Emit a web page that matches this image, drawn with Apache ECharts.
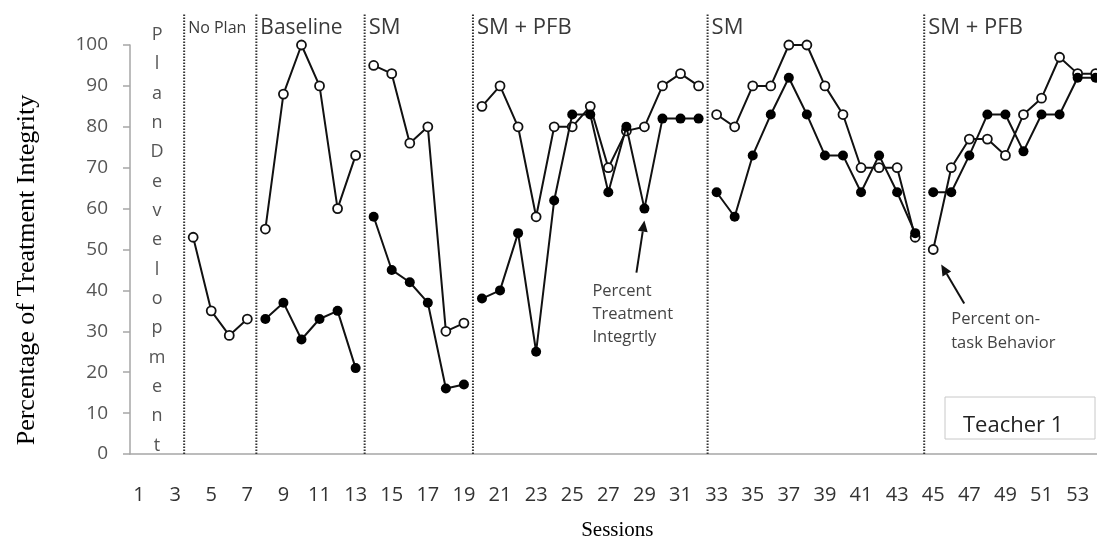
<!DOCTYPE html>
<html><head><meta charset="utf-8">
<script src="https://cdn.jsdelivr.net/npm/echarts@6/dist/echarts.min.js"></script>
<style>html,body{margin:0;padding:0;background:#fff;overflow:hidden}#c{width:1097px;height:542px}</style>
</head><body><div id="c"></div>
<script>
// ---------- data ----------
const sessions = ['1','2','3','4','5','6','7','8','9','10','11','12','13','14','15','16','17','18','19','20',
  '21','22','23','24','25','26','27','28','29','30','31','32','33','34','35','36','37','38','39','40',
  '41','42','43','44','45','46','47','48','49','50','51','52','53','54'];
const phaseNames  = ['No Plan', 'Baseline', 'SM', 'SM + PFB', 'SM', 'SM + PFB'];
const phaseStarts = [4, 8, 14, 20, 33, 45];
const phaseEnds   = [7, 13, 19, 32, 44, 54];
const phaseBreaks = [3.5, 7.5, 13.5, 19.5, 32.5, 44.5];
const phaseFontSizes = [16, 21, 22, 22, 22, 22];
// Percent on-task Behavior (open circles), sessions 1..54
const onTask = [null, null, null,
  53, 35, 29, 33,
  55, 88, 100, 90, 60, 73,
  95, 93, 76, 80, 30, 32,
  85, 90, 80, 58, 80, 80, 85, 70, 79, 80, 90, 93, 90,
  83, 80, 90, 90, 100, 100, 90, 83, 70, 70, 70, 53,
  50, 70, 77, 77, 73, 83, 87, 97, 93, 93];
// Percent Treatment Integrity (filled circles), sessions 1..54
const integrity = [null, null, null, null, null, null, null,
  33, 37, 28, 33, 35, 21,
  58, 45, 42, 37, 16, 17,
  38, 40, 54, 25, 62, 83, 83, 64, 80, 60, 82, 82, 82,
  64, 58, 73, 83, 92, 83, 73, 73, 64, 73, 64, 54,
  64, 64, 73, 83, 83, 74, 83, 83, 92, 92];
const planDevLetters = ['P','l','a','n','D','e','v','e','l','o','p','m','e','n','t'];
const yTitle = 'Percentage of Treatment Integrity';
const xTitle = 'Sessions';
const note1 = ['Percent', 'Treatment', 'Integrtly'];
const note2 = ['Percent on-', 'task Behavior'];
const panelLabel = 'Teacher 1';

// ---------- chart ----------
const chart = echarts.init(document.getElementById('c'), null, {renderer: 'canvas'});
const FONT = 'Open Sans';
const axisGray = '#a6a6a6';

function phaseSeries(values, p, filled) {
  const data = [];
  for (let s = phaseStarts[p]; s <= phaseEnds[p]; s++) {
    const v = values[s - 1];
    if (v != null) data.push([s, v]);
  }
  return {
    type: 'line', xAxisIndex: 1, yAxisIndex: 0, data: data,
    symbol: 'circle', symbolSize: filled ? 10 : 9,
    z: filled ? 4 : 3,
    lineStyle: {color: '#111', width: 2},
    itemStyle: filled ? {color: '#000'} : {color: '#fff', borderColor: '#111', borderWidth: 1.8},
    emphasis: {disabled: true}, silent: true
  };
}

const series = [];
phaseBreaks.forEach(b => {
  series.push({
    type: 'line', xAxisIndex: 1, yAxisIndex: 0, clip: false, symbol: 'none', z: 1,
    data: [[b, 0], [b, 107.8]],
    lineStyle: {color: '#333', width: 2, type: [1.5, 1.5]}, silent: true
  });
});
for (let p = 0; p < phaseNames.length; p++) {
  series.push(phaseSeries(onTask, p, false));
  series.push(phaseSeries(integrity, p, true));
}

chart.setOption({
  animation: false,
  grid: {left: 130, top: 45, width: 974.7, height: 409, containLabel: false, outerBoundsMode: 'none'},
  xAxis: [{
    type: 'category', data: sessions, boundaryGap: true,
    axisLine: {lineStyle: {color: axisGray, width: 1.5}},
    axisTick: {interval: 0, length: 6, lineStyle: {color: axisGray, width: 1.5}},
    axisLabel: {interval: 1, margin: 31, fontFamily: FONT, fontSize: 20, color: '#333'},
    name: xTitle, nameLocation: 'middle', nameGap: 66,
    nameTextStyle: {fontFamily: 'Liberation Serif', fontSize: 21, color: '#000'},
    splitLine: {show: false}
  }, {
    type: 'value', min: 0.5, max: 54.5, show: false, position: 'bottom'
  }],
  yAxis: [{
    type: 'value', min: 0, max: 100, interval: 10,
    axisLine: {show: true, lineStyle: {color: axisGray, width: 1.5}},
    axisTick: {show: true, length: 7, lineStyle: {color: axisGray, width: 1.5}},
    axisLabel: {margin: 22, fontFamily: FONT, fontSize: 19, color: '#555', padding: [6, 0, 0, 0]},
    splitLine: {show: false}
  }],
  series: series
});

// ---------- annotations anchored with the chart's own scales ----------
const toPx = (x, y) => chart.convertToPixel({xAxisIndex: 1, yAxisIndex: 0}, [x, y]);
const graphics = [];

phaseNames.forEach((name, i) => {
  const px = toPx(phaseBreaks[i], 0);
  graphics.push({type: 'text', x: px[0] + 4, y: 28,
    style: {text: name, font: phaseFontSizes[i] + 'px "' + FONT + '"', fill: '#3a3a3a', verticalAlign: 'middle', align: 'left'}});
});

const pd = toPx(2, 0);
graphics.push({type: 'text', x: pd[0], y: 20,
  style: {text: planDevLetters.join('\n'), font: '18px "' + FONT + '"', lineHeight: 29.36, fill: '#555', align: 'center', verticalAlign: 'top'}});

graphics.push({type: 'text', x: 27, y: 270, rotation: Math.PI / 2,
  style: {text: yTitle, font: '26px "Liberation Serif"', fill: '#000', align: 'center', verticalAlign: 'middle'}});

function arrow(tail, tip) {
  const dx = tip[0] - tail[0], dy = tip[1] - tail[1];
  const len = Math.sqrt(dx * dx + dy * dy), ux = dx / len, uy = dy / len;
  const hl = 11, hw = 5;
  const bx = tip[0] - ux * hl, by = tip[1] - uy * hl;
  graphics.push({type: 'line', shape: {x1: tail[0], y1: tail[1], x2: bx, y2: by}, style: {stroke: '#111', lineWidth: 2}});
  graphics.push({type: 'polygon', shape: {points: [tip, [bx - uy * hw, by + ux * hw], [bx + uy * hw, by - ux * hw]]}, style: {fill: '#111'}});
}

const a1 = toPx(29, integrity[28]);
arrow([a1[0] - 8, a1[1] + 64], [a1[0], a1[1] + 12]);
graphics.push({type: 'text', x: a1[0] - 52, y: a1[1] + 71,
  style: {text: note1.join('\n'), font: '16.5px "' + FONT + '"', lineHeight: 23, fill: '#444', align: 'left', verticalAlign: 'top'}});

const a2 = toPx(45, onTask[44]);
arrow([a2[0] + 31, a2[1] + 54], [a2[0] + 8, a2[1] + 15]);
graphics.push({type: 'text', x: a2[0] + 18, y: a2[1] + 58,
  style: {text: note2.join('\n'), font: '16.5px "' + FONT + '"', lineHeight: 24, fill: '#444', align: 'left', verticalAlign: 'top'}});

graphics.push({type: 'rect', shape: {x: 945, y: 397, width: 150, height: 42}, style: {fill: '#fff', stroke: '#c8c8c8', lineWidth: 1}, z: 10});
graphics.push({type: 'text', x: 963, y: 426, z: 11,
  style: {text: panelLabel, font: '22px "' + FONT + '"', fill: '#222', align: 'left', verticalAlign: 'middle'}});

chart.setOption({graphic: graphics});
</script></body></html>
